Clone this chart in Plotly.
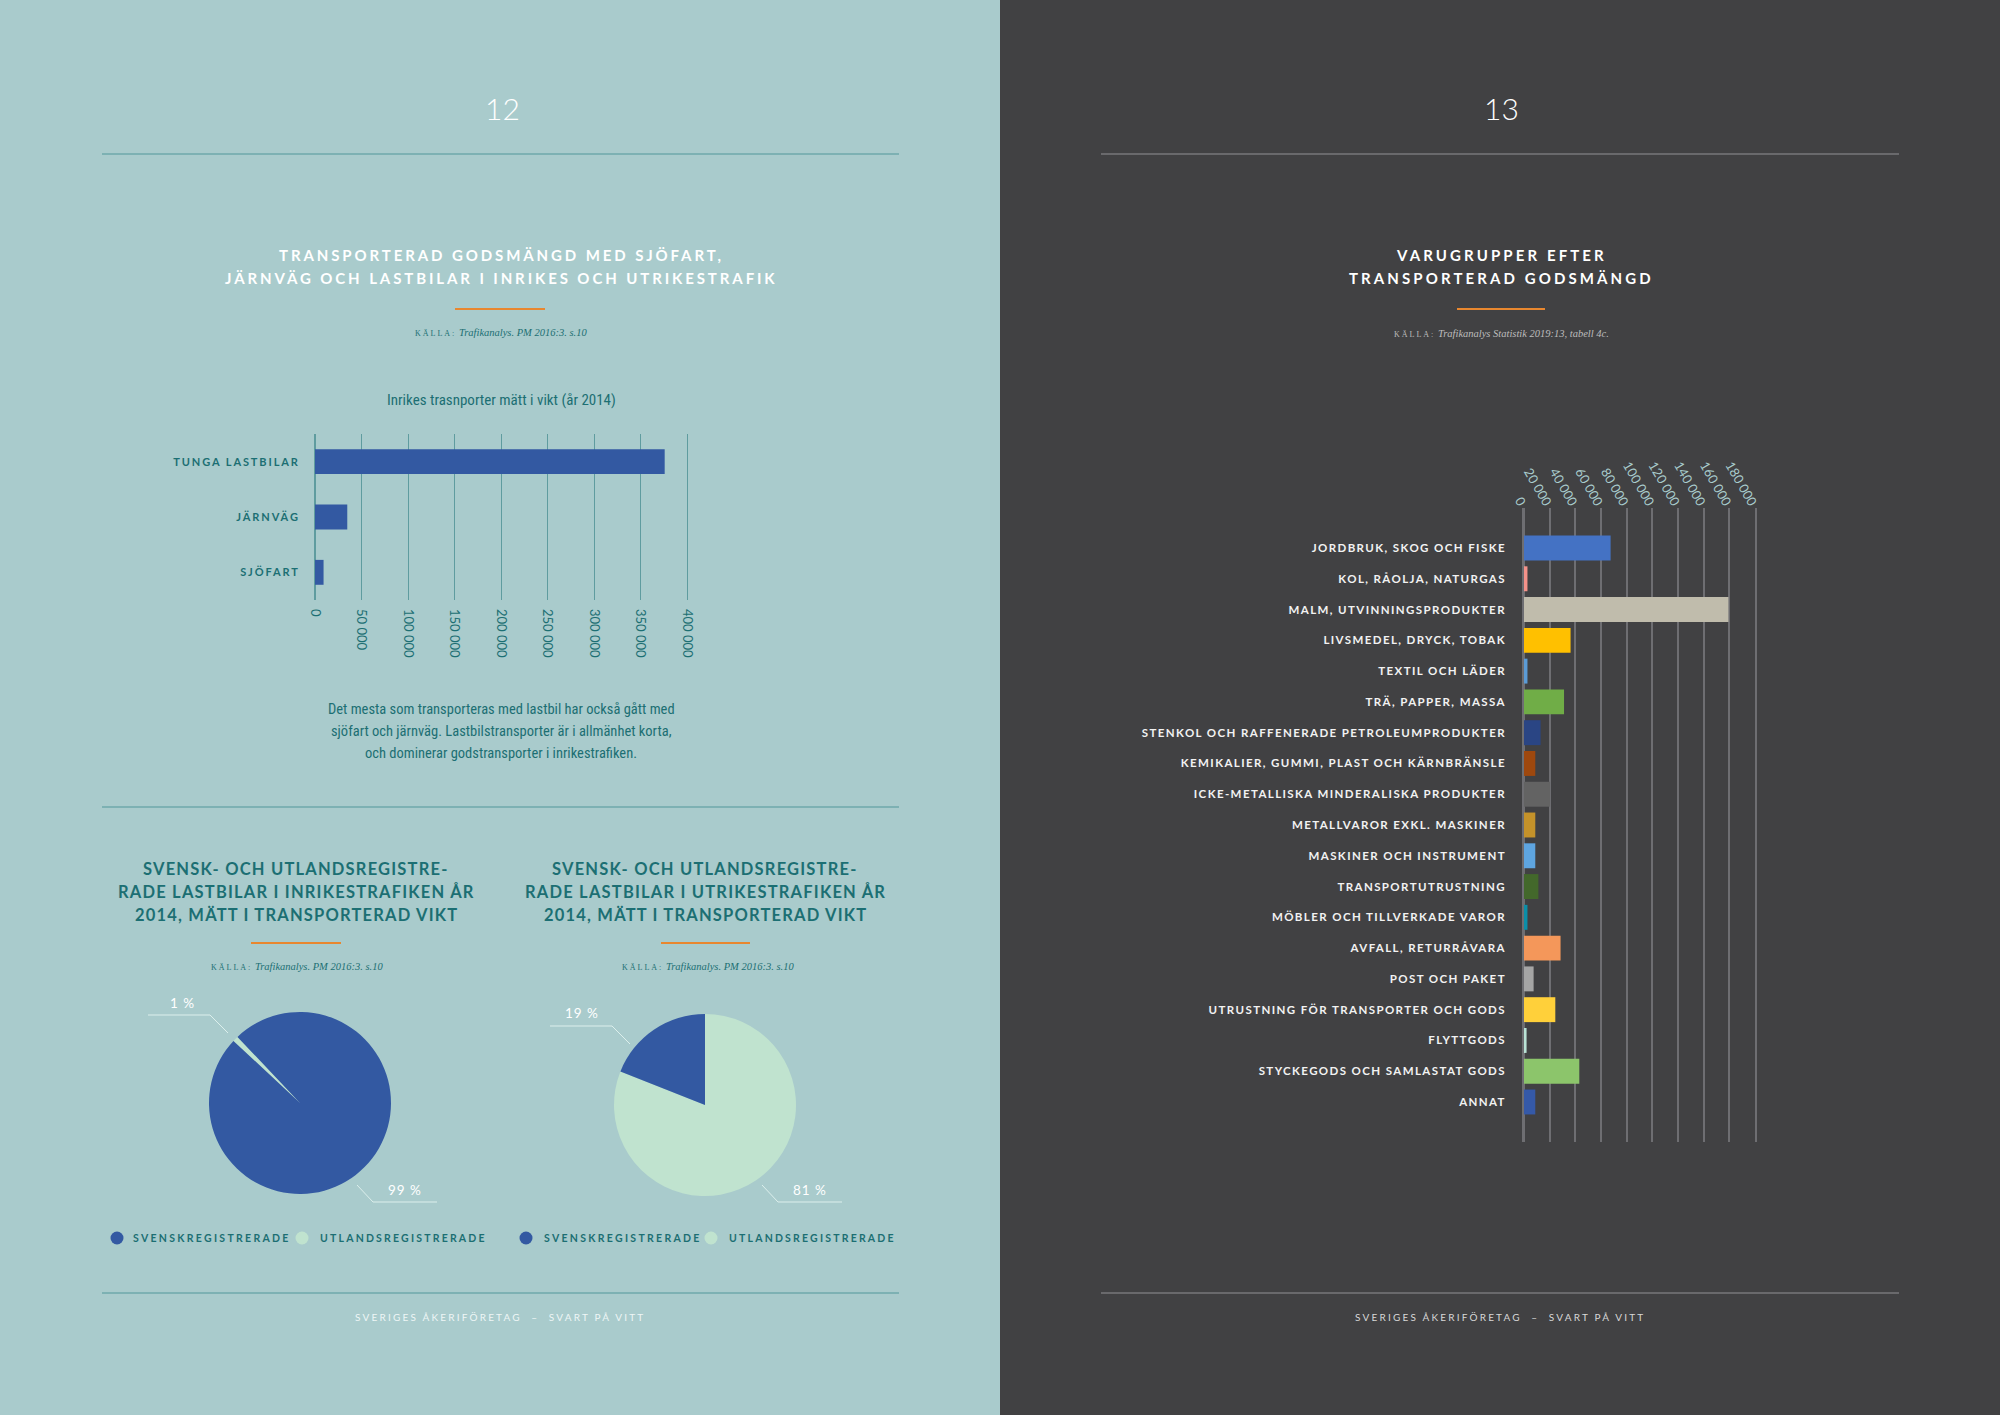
import plotly.graph_objects as go

W, H = 2000, 1415


def px(x):
    return x / W


def py(y):
    return 1 - y / H


# ---------------- data ----------------
modes = ["TUNGA LASTBILAR", "JÄRNVÄG", "SJÖFART"]
mode_tons = [376000, 34700, 9200]
left_tickvals = [0, 50000, 100000, 150000, 200000, 250000, 300000, 350000, 400000]
left_ticktext = ["0", "50 000", "100 000", "150 000", "200 000", "250 000", "300 000", "350 000", "400 000"]

pie_labels = ["UTLANDSREGISTRERADE", "SVENSKREGISTRERADE"]
pie_inrikes = [1, 99]
pie_utrikes = [81, 19]

groups = [
    "JORDBRUK, SKOG OCH FISKE",
    "KOL, RÅOLJA, NATURGAS",
    "MALM, UTVINNINGSPRODUKTER",
    "LIVSMEDEL, DRYCK, TOBAK",
    "TEXTIL OCH LÄDER",
    "TRÄ, PAPPER, MASSA",
    "STENKOL OCH RAFFENERADE PETROLEUMPRODUKTER",
    "KEMIKALIER, GUMMI, PLAST OCH KÄRNBRÄNSLE",
    "ICKE-METALLISKA MINDERALISKA PRODUKTER",
    "METALLVAROR EXKL. MASKINER",
    "MASKINER OCH INSTRUMENT",
    "TRANSPORTUTRUSTNING",
    "MÖBLER OCH TILLVERKADE VAROR",
    "AVFALL, RETURRÅVARA",
    "POST OCH PAKET",
    "UTRUSTNING FÖR TRANSPORTER OCH GODS",
    "FLYTTGODS",
    "STYCKEGODS OCH SAMLASTAT GODS",
    "ANNAT",
]
group_values = [67500, 2700, 159300, 36300, 2700, 31200, 12900, 8800, 20300, 8800,
                8800, 11200, 2700, 28500, 7500, 24400, 2000, 43100, 8800]
right_tickvals = [0, 20000, 40000, 60000, 80000, 100000, 120000, 140000, 160000, 180000]
right_ticktext = ["0", "20 000", "40 000", "60 000", "80 000", "100 000", "120 000", "140 000", "160 000", "180 000"]

# ---------------- styles ----------------
group_colors = ["#4472c4", "#f4928a", "#c0bcac", "#ffc000", "#5b9bd5", "#70ad47", "#2a4584",
                "#9e480e", "#636363", "#c4922a", "#5ea5e0", "#43682b", "#0b8fa8", "#f4975a",
                "#a5a5a5", "#ffd03a", "#b9e2d5", "#8cc56b", "#3559a8"]
LEFT_BG = "#a9cbcc"
RIGHT_BG = "#414143"
TEAL = "#1c6f73"
BLUE = "#3359a2"
MINT = "#c0e3cf"
ORANGE = "#e8872f"
LGRID = "#5f9c9f"
RGRID = "#6e6e72"
SANS = "Lato, 'Open Sans', sans-serif"
NARROW = "'Liberation Sans Narrow', 'Roboto Condensed', Roboto, sans-serif"
SERIF = "'Liberation Serif', 'DejaVu Serif', serif"


def spaced(t, ls):
    return f'<span style="letter-spacing:{ls}px">{t}</span>'


fig = go.Figure()

# left bar chart
fig.add_trace(go.Bar(
    y=modes, x=mode_tons, orientation="h", marker=dict(color=BLUE, line=dict(width=0)),
    width=0.45, xaxis="x", yaxis="y", showlegend=False, hoverinfo="skip"))

# right bar chart
fig.add_trace(go.Bar(
    y=groups, x=group_values, orientation="h",
    marker=dict(color=group_colors, line=dict(width=0)),
    width=0.81, xaxis="x2", yaxis="y2", showlegend=False, hoverinfo="skip"))

# pies
pie_colors = [MINT, BLUE]
r = 91
for (cx, cy, vals, rot) in [(300, 1103, pie_inrikes, 313), (705, 1105, pie_utrikes, 0)]:
    fig.add_trace(go.Pie(
        labels=pie_labels, values=vals, sort=False, direction="clockwise", rotation=rot,
        marker=dict(colors=pie_colors, line=dict(width=0)), textinfo="none",
        domain=dict(x=[px(cx - r), px(cx + r)], y=[py(cy + r), py(cy - r)]),
        showlegend=False, hoverinfo="skip"))

annotations = []
shapes = []

# backgrounds
shapes.append(dict(type="rect", xref="paper", yref="paper", x0=0, x1=0.5, y0=0, y1=1,
                   fillcolor=LEFT_BG, line=dict(width=0), layer="below"))
shapes.append(dict(type="rect", xref="paper", yref="paper", x0=0.5, x1=1.01, y0=-0.01, y1=1.01,
                   fillcolor=RIGHT_BG, line=dict(width=0), layer="below"))


def hline(x0, x1, y, color, width=1.5):
    shapes.append(dict(type="line", xref="paper", yref="paper", x0=px(x0), x1=px(x1),
                       y0=py(y), y1=py(y), line=dict(color=color, width=width)))


def text(x, y, t, size, color, family=SANS, weight=None, xanchor="center"):
    f = dict(size=size, color=color, family=family)
    if weight:
        f["weight"] = weight
    annotations.append(dict(xref="paper", yref="paper", x=px(x), y=py(y), text=t,
                            showarrow=False, xanchor=xanchor, yanchor="middle", font=f))


def path(pts, color):
    d = "M " + " L ".join(f"{px(a)},{py(b)}" for a, b in pts)
    shapes.append(dict(type="path", xref="paper", yref="paper", path=d,
                       line=dict(color=color, width=1)))


def dot(x, y, rad, color):
    shapes.append(dict(type="circle", xref="paper", yref="paper",
                       x0=px(x - rad), x1=px(x + rad), y0=py(y + rad), y1=py(y - rad),
                       fillcolor=color, line=dict(width=0)))


# header / footer lines
hline(102, 899, 154, "#6fa9ab")
hline(1101, 1899, 154, "#77777a")
hline(102, 899, 807, "#6fa9ab")
hline(102, 899, 1293, "#6fa9ab")
hline(1101, 1899, 1293, "#77777a")

# page numbers
text(502, 108, "12", 30, "#ffffff", weight=300)
text(1501, 108, "13", 30, "#ffffff", weight=300)

# left title
text(501, 255, spaced("TRANSPORTERAD GODSMÄNGD MED SJÖFART,", 2.9), 15, "#ffffff", weight=700)
text(501, 278, spaced("JÄRNVÄG OCH LASTBILAR I INRIKES OCH UTRIKESTRAFIK", 2.9), 15, "#ffffff", weight=700)
hline(455, 545, 309, ORANGE, 2)
text(501, 332, '<span style="font-size:8px;letter-spacing:2px">KÄLLA:</span> <i>Trafikanalys. PM 2016:3. s.10</i>',
     10.5, TEAL, family=SERIF)

# bar chart title
text(501, 400, "Inrikes trasnporter mätt i vikt (år 2014)", 15, TEAL, family=NARROW)

# paragraph
para = ["Det mesta som transporteras med lastbil har också gått med",
        "sjöfart och järnväg. Lastbilstransporter är i allmänhet korta,",
        "och dominerar godstransporter i inrikestrafiken."]
for i, ln in enumerate(para):
    text(501, 709 + 22 * i, ln, 14.5, TEAL, family=NARROW)

# pie titles
t1 = ["SVENSK- OCH UTLANDSREGISTRE-", "RADE LASTBILAR I INRIKESTRAFIKEN ÅR", "2014, MÄTT I TRANSPORTERAD VIKT"]
t2 = ["SVENSK- OCH UTLANDSREGISTRE-", "RADE LASTBILAR I UTRIKESTRAFIKEN ÅR", "2014, MÄTT I TRANSPORTERAD VIKT"]
for i in range(3):
    text(296, 869 + 23 * i, spaced(t1[i], 1.2), 16.5, TEAL, weight=700)
    text(705, 869 + 23 * i, spaced(t2[i], 1.2), 16.5, TEAL, weight=700)
hline(251, 341, 943, ORANGE, 2)
hline(661, 750, 943, ORANGE, 2)
src = '<span style="font-size:8px;letter-spacing:2px">KÄLLA:</span> <i>Trafikanalys. PM 2016:3. s.10</i>'
text(297, 966, src, 10.5, TEAL, family=SERIF)
text(708, 966, src, 10.5, TEAL, family=SERIF)

# pie value labels with leader lines
LINE = "#dcefec"
text(182, 1003, spaced(f"{pie_inrikes[0]} %", 1), 13.5, "#ffffff")
path([(148, 1015), (210, 1015), (228, 1033)], LINE)
text(405, 1190, spaced(f"{pie_inrikes[1]} %", 1), 13.5, "#ffffff")
path([(357, 1185), (373, 1202), (437, 1202)], LINE)
text(582, 1013, spaced(f"{pie_utrikes[1]} %", 1), 13.5, "#ffffff")
path([(550, 1026), (612, 1026), (630, 1044)], LINE)
text(810, 1190, spaced(f"{pie_utrikes[0]} %", 1), 13.5, "#ffffff")
path([(762, 1185), (778, 1202), (842, 1202)], LINE)

# pie legends (dot + label)
legend_rows = [(117, 131, 302, 318), (526, 542, 711, 727)]
for d1, t1x, d2, t2x in legend_rows:
    dot(d1, 1238, 6.5, BLUE)
    text(t1x, 1238, spaced(pie_labels[1], 2.3), 10.5, TEAL, weight=700, xanchor="left")
    dot(d2, 1238, 6.5, MINT)
    text(t2x, 1238, spaced(pie_labels[0], 2.2), 10.5, TEAL, weight=700, xanchor="left")

# right title
text(1501, 255, spaced("VARUGRUPPER EFTER", 3.1), 15, "#ffffff", weight=700)
text(1501, 278, spaced("TRANSPORTERAD GODSMÄNGD", 3.1), 15, "#ffffff", weight=700)
hline(1457, 1545, 309, ORANGE, 2)
text(1501, 334, '<span style="font-size:8px;letter-spacing:2px">KÄLLA:</span> <i>Trafikanalys Statistik 2019:13, tabell 4c.</i>',
     10.5, "#bdbdbd", family=SERIF)

# footers
foot = spaced("SVERIGES ÅKERIFÖRETAG  –  SVART PÅ VITT", 2.2)
text(500, 1317, foot, 10, "#eef6f6")
text(1500, 1317, foot, 10, "#d8d8d8")

fig.update_layout(
    width=W, height=H, margin=dict(l=0, r=0, t=0, b=0, pad=0, autoexpand=False),
    paper_bgcolor=LEFT_BG, plot_bgcolor="rgba(0,0,0,0)",
    annotations=annotations, shapes=shapes, showlegend=False,
    xaxis=dict(domain=[px(315), px(687)], range=[0, 400000], tickvals=left_tickvals,
               ticktext=left_ticktext, tickangle=90, showgrid=True, gridcolor=LGRID,
               gridwidth=1, zeroline=True, zerolinecolor=LGRID, zerolinewidth=1,
               showline=False, ticks="", tickfont=dict(size=13, color=TEAL, family=SANS),
               anchor="y", automargin=False, ticklabelstandoff=8),
    yaxis=dict(domain=[py(600), py(434)], categoryorder="array", categoryarray=modes,
               autorange="reversed", tickvals=modes, ticktext=[spaced(m, 1.9) for m in modes],
               tickfont=dict(size=11, color=TEAL, family=SANS, weight=700),
               showline=True, mirror=True, linecolor=LGRID, linewidth=1,
               showgrid=False, zeroline=False, ticks="", ticklabelstandoff=12, anchor="x",
               automargin=False),
    xaxis2=dict(domain=[px(1524), px(1755)], range=[0, 180000], side="top",
                tickvals=right_tickvals, ticktext=right_ticktext, tickangle=60,
                showgrid=True, gridcolor=RGRID, gridwidth=1.5, zeroline=True,
                zerolinecolor=RGRID, zerolinewidth=1.5, ticks="",
                tickfont=dict(size=13, color="#a9cccd", family=SANS),
                anchor="free", position=py(513),
                ticklabelstandoff=0, automargin=False),
    yaxis2=dict(domain=[py(1142), py(508)], categoryorder="array", categoryarray=groups,
                range=[len(groups) - 1 + 1.3, -1.3], tickvals=groups,
                ticktext=[spaced(g, 1.4) for g in groups],
                tickfont=dict(size=11.5, color="#f2f2f2", family=SANS, weight=700),
                showline=True, mirror=True, linecolor=RGRID, linewidth=1.5,
                showgrid=False, zeroline=False, ticks="", ticklabelstandoff=14, anchor="x2",
                automargin=False),
)

fig.write_html("out.html", config={"displayModeBar": False},
               post_script="document.documentElement.style.overflow='hidden';"
                           "document.body.style.margin='0';document.body.style.overflow='hidden';")
